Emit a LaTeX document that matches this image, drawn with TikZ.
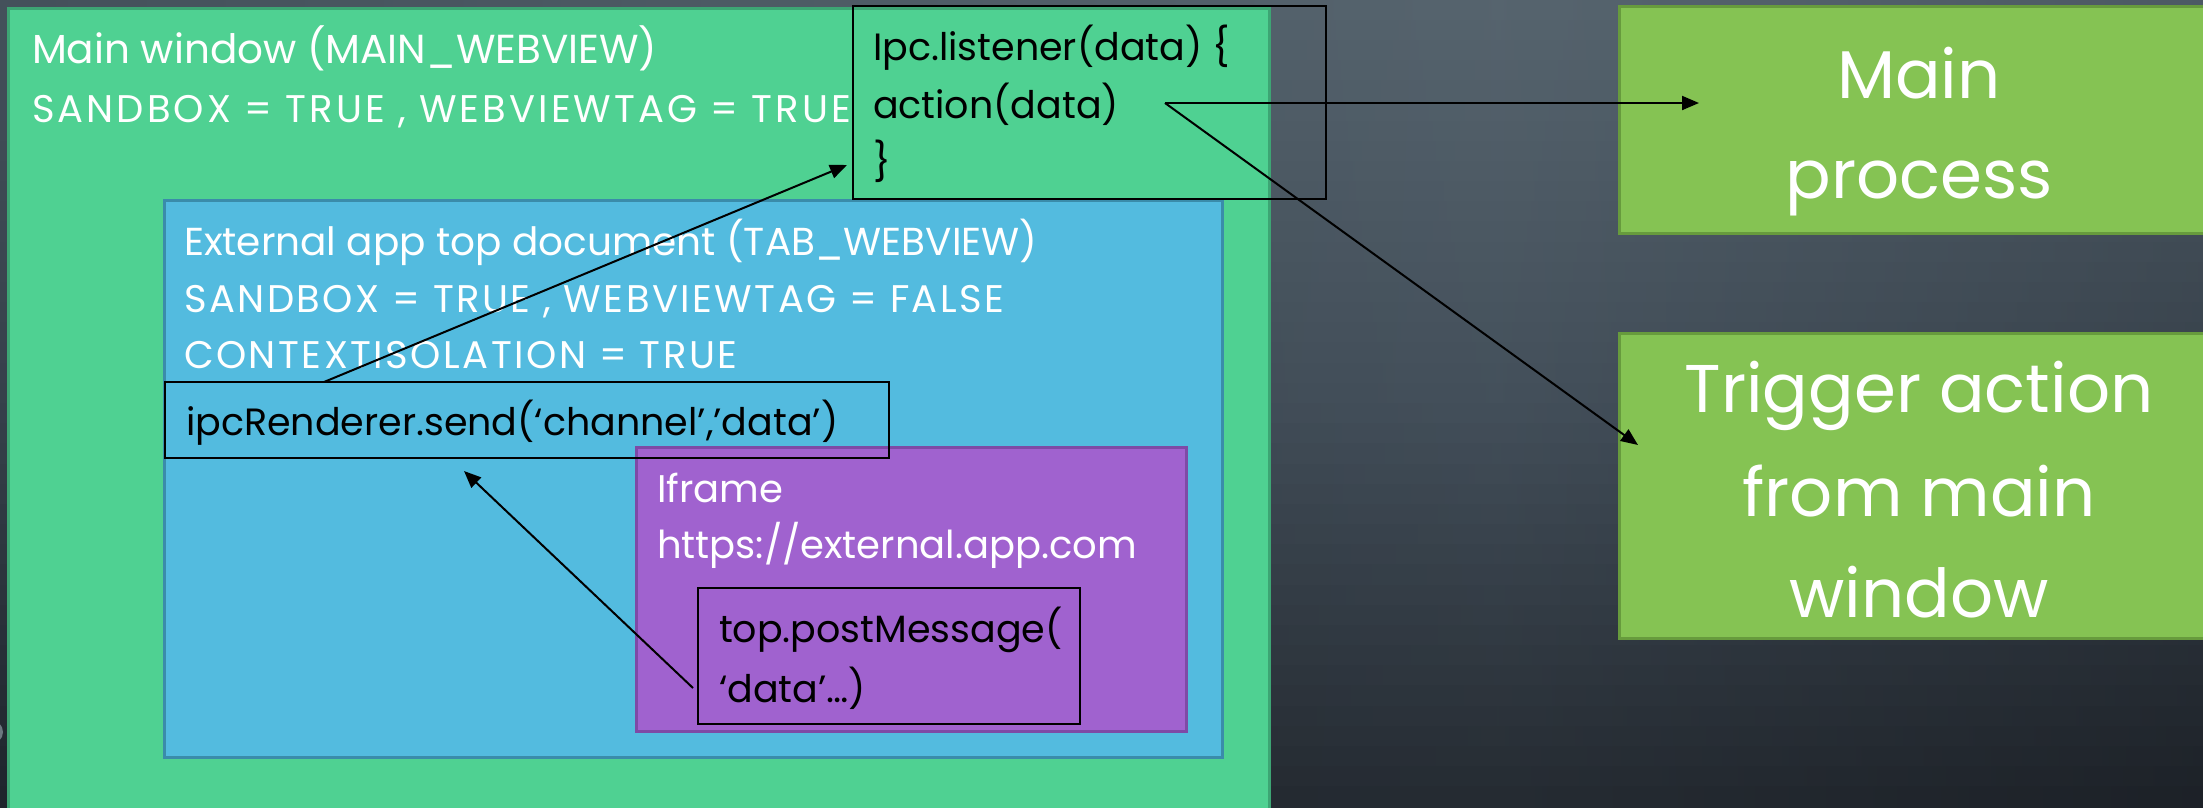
\documentclass[tikz,border=0pt]{standalone}
\usepackage{fontspec}
\setmainfont{Poppins}
\newfontfamily\capsfont[LetterSpace=6.5]{Poppins}
\newfontfamily\capsfontwide[LetterSpace=8]{Poppins}
\usetikzlibrary{arrows.meta,calc}
\definecolor{tA}{HTML}{37434D}\definecolor{tB}{HTML}{56646E}\definecolor{tC}{HTML}{3E4A55}
\definecolor{mA}{HTML}{2C353F}\definecolor{mB}{HTML}{434F5A}\definecolor{mC}{HTML}{22282F}
\definecolor{bA}{HTML}{1A1F27}\definecolor{bB}{HTML}{242A31}\definecolor{bC}{HTML}{0F1116}
\definecolor{mainfill}{HTML}{4FD192}\definecolor{mainedge}{HTML}{3DA574}
\definecolor{tabfill}{HTML}{53BBDF}\definecolor{tabedge}{HTML}{3A8CAA}
\definecolor{iffill}{HTML}{A062CF}\definecolor{ifedge}{HTML}{7E4AA6}
\definecolor{procfill}{HTML}{85C353}\definecolor{procedge}{HTML}{679B3D}
\definecolor{knob}{HTML}{6B7880}
\begin{document}
\begin{tikzpicture}[x=1pt,y=-1pt,
  every node/.style={inner sep=0pt,outer sep=0pt},
  panel/.style={rectangle,line width=3pt},
  codebox/.style={rectangle,draw=black,line width=2.2pt},
  wtext/.style={anchor=base west,text=white,font=\fontsize{38.5}{58}\selectfont},
  wcaps/.style={anchor=base west,text=white,font=\capsfont\fontsize{38.5}{58}\selectfont},
  btext/.style={anchor=base west,text=black,font=\fontsize{38}{58}\selectfont},
  bigtext/.style={anchor=base,text=white,font=\fontsize{67.5}{102}\selectfont},
  arr/.style={draw=black,line width=2pt,-{Triangle[length=17pt,width=14pt]}}]
\useasboundingbox (0,0) rectangle (2203,807);
% background (drawn at 1/10 size, canvas scaled up)
\begin{scope}[transform canvas={scale=10}]
\foreach \i in {0,...,39}{
  \pgfmathsetmacro{\myt}{(\i+0.5)/40}
  \pgfmathtruncatemacro{\myw}{\myt<0.5 ? 200*\myt : 200*\myt-100}
  \ifnum\i<20
    \colorlet{cA}{mA!\myw!tA}\colorlet{cB}{mB!\myw!tB}\colorlet{cC}{mC!\myw!tC}
  \else
    \colorlet{cA}{bA!\myw!mA}\colorlet{cB}{bB!\myw!mB}\colorlet{cC}{bC!\myw!mC}
  \fi
  \pgfdeclarehorizontalshading{bgs\i}{100bp}{color(0bp)=(cA); color(59bp)=(cB); color(100bp)=(cC)}
  \shade[shading=bgs\i] (0,{\i*80.7/40}) rectangle (220.3,{(\i+1)*80.7/40+0.1});
}
\end{scope}
\fill[knob] (-9,732) circle (12);
% panels
\node[panel,fill=mainfill,draw=mainedge,minimum width=1261,minimum height=812] (mainwin) at (638.5,414) {};
\node[panel,fill=tabfill,draw=tabedge,minimum width=1058,minimum height=557] (tab) at (693,478.5) {};
\node[panel,fill=iffill,draw=ifedge,minimum width=550,minimum height=284] (iframe) at (911,589) {};
\node[panel,fill=procfill,draw=procedge,minimum width=600,minimum height=227] (mainproc) at (1919,119.5) {};
\node[panel,fill=procfill,draw=procedge,minimum width=600,minimum height=305] (trigger) at (1919,485.5) {};
% code boxes
\node[codebox,minimum width=473,minimum height=193] (listener) at (1089.5,102.5) {};
\node[codebox,minimum width=724,minimum height=76] (ipc) at (527,420) {};
\node[codebox,minimum width=382,minimum height=136] (pm) at (889,656) {};
% texts
\node[wtext,font=\fontsize{40.5}{58}\selectfont] (tmain1) at (32,63) {Main window (MAIN\_WEBVIEW)};
\node[wcaps,font=\capsfontwide\fontsize{38.5}{58}\selectfont] (tmain2) at (32,122) {SANDBOX = TRUE , WEBVIEWTAG = TRUE};
\node[wtext,font=\fontsize{39}{58}\selectfont] (text1) at (184,255) {External app top document (TAB\_WEBVIEW)};
\node[wcaps] (text2) at (184,312) {SANDBOX = TRUE , WEBVIEWTAG = FALSE};
\node[wcaps] (text3) at (184,368) {CONTEXTISOLATION = TRUE};
\node[btext] (tipc) at (186,435) {ipcRenderer.send(‘channel’,’data’)};
\node[wtext] (tif1) at (657,502) {Iframe};
\node[wtext] (tif2) at (657,558) {https://external.app.com};
\node[btext] (tpm1) at (719,642) {top.postMessage(};
\node[btext] (tpm2) at (719,702) {‘data’…)};
\node[btext] (tl1) at (873,60) {Ipc.listener(data) \{};
\node[btext] (tl2) at (873,118) {action(data)};
\node[btext] (tl3) at (873,175) {\}};
\node[bigtext] (tproc1) at ($(mainproc.north)+(0,92)$) {Main};
\node[bigtext] (tproc2) at ($(mainproc.north)+(0,192)$) {process};
\node[bigtext] (ttrig1) at ($(trigger.north)+(0,79)$) {Trigger action};
\node[bigtext] (ttrig2) at ($(trigger.north)+(0,183)$) {from main};
\node[bigtext] (ttrig3) at ($(trigger.north)+(0,284)$) {window};
% connectors
\coordinate (act) at (1165,103);
\draw[arr] ($(ipc.north west)+(159,0)$) -- ($(listener.south west)+(-6,-34)$);
\draw[arr] ($(pm.west)+(-5,32)$) -- ($(ipc.south west)+(299,13)$);
\draw[arr] (act) -- ($(mainproc.west)+(80,-16.5)$);
\draw[arr] (act) -- ($(trigger.west)+(19,-40.5)$);
\end{tikzpicture}
\end{document}
